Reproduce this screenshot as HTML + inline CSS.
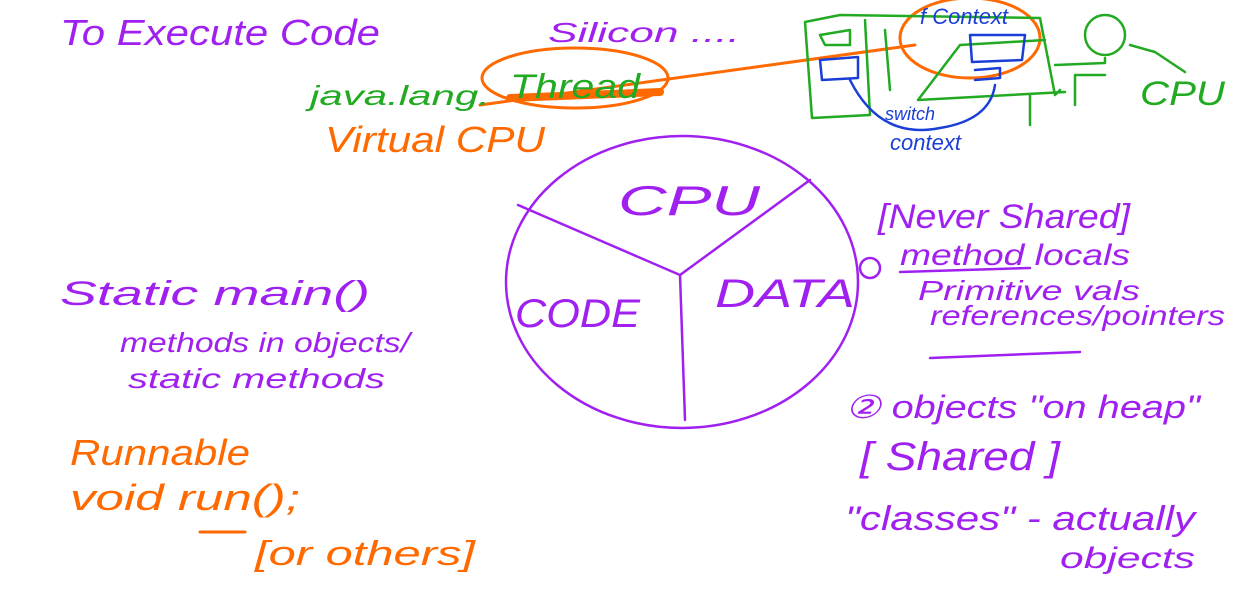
<!DOCTYPE html>
<html><head><meta charset="utf-8"><style>
html,body{margin:0;padding:0;background:#fff;width:1240px;height:590px;overflow:hidden}
svg text{font-family:"Liberation Sans",sans-serif;font-style:italic}
</style></head><body>
<svg width="1240" height="590" viewBox="0 0 1240 590" xmlns="http://www.w3.org/2000/svg" fill="none" stroke-linecap="round" stroke-linejoin="round">
<g fill="#a020f0" font-size="34" lengthAdjust="spacingAndGlyphs">
<text x="60" y="45" font-size="36" textLength="320" lengthAdjust="spacingAndGlyphs">To Execute Code</text>
<text x="548" y="42" font-size="28" textLength="192" lengthAdjust="spacingAndGlyphs">Silicon ....</text>
<text x="618" y="215" font-size="42" textLength="142" lengthAdjust="spacingAndGlyphs">CPU</text>
<text x="515" y="327" font-size="40" textLength="125" lengthAdjust="spacingAndGlyphs">CODE</text>
<text x="715" y="307" font-size="40" textLength="140" lengthAdjust="spacingAndGlyphs">DATA</text>
<text x="60" y="305" font-size="34" textLength="310" lengthAdjust="spacingAndGlyphs">Static  main()</text>
<text x="120" y="352" font-size="28" textLength="290" lengthAdjust="spacingAndGlyphs">methods in objects/</text>
<text x="128" y="388" font-size="28" textLength="257" lengthAdjust="spacingAndGlyphs">static methods</text>
<text x="878" y="228" font-size="34" textLength="252" lengthAdjust="spacingAndGlyphs">[Never Shared]</text>
<text x="900" y="265" font-size="30" textLength="230" lengthAdjust="spacingAndGlyphs">method locals</text>
<text x="918" y="300" font-size="28" textLength="222" lengthAdjust="spacingAndGlyphs">Primitive vals</text>
<text x="930" y="325" font-size="28" textLength="295" lengthAdjust="spacingAndGlyphs">references/pointers</text>
<text x="845" y="418" font-size="32" textLength="355" lengthAdjust="spacingAndGlyphs">② objects "on heap"</text>
<text x="860" y="470" font-size="40" textLength="200" lengthAdjust="spacingAndGlyphs">[ Shared ]</text>
<text x="845" y="530" font-size="34" textLength="350" lengthAdjust="spacingAndGlyphs">"classes" - actually</text>
<text x="1060" y="568" font-size="30" textLength="135" lengthAdjust="spacingAndGlyphs">objects</text>
</g>
<g stroke="#a020f0" stroke-width="2.5">
<ellipse cx="682" cy="282" rx="176" ry="146"/>
<path d="M518 205 L680 275 L810 180 M680 275 L685 420"/>
<path d="M900 272 L1030 268 M930 358 L1080 352"/>
<circle cx="870" cy="268" r="10"/>
</g>
<g fill="#ff6a00">
<text x="325" y="152" font-size="36" textLength="220" lengthAdjust="spacingAndGlyphs">Virtual CPU</text>
<text x="70" y="465" font-size="36" textLength="180" lengthAdjust="spacingAndGlyphs">Runnable</text>
<text x="70" y="510" font-size="36" textLength="230" lengthAdjust="spacingAndGlyphs">void run();</text>
<text x="255" y="565" font-size="34" textLength="220" lengthAdjust="spacingAndGlyphs">[or others]</text>
</g>
<g stroke="#ff6a00" stroke-width="3">
<ellipse cx="575" cy="78" rx="93" ry="30"/>
<ellipse cx="970" cy="38" rx="70" ry="40"/>
<path d="M480 105 L915 45"/>
<path d="M510 98 L660 92" stroke-width="8"/>
<path d="M200 532 L245 532"/>
</g>
<g fill="#22aa22">
<text x="310" y="105" font-size="28" textLength="180" lengthAdjust="spacingAndGlyphs">java.lang.</text>
<text x="510" y="98" font-size="34" textLength="130" lengthAdjust="spacingAndGlyphs">Thread</text>
<text x="1140" y="105" font-size="34" textLength="85" lengthAdjust="spacingAndGlyphs">CPU</text>
</g>
<g stroke="#22aa22" stroke-width="2.5">
<path d="M805 22 L840 15 L1040 18 L1055 95 L1060 90 M805 22 L812 118 L870 115 L865 20"/>
<path d="M885 30 L890 90 M918 100 L960 45 L1045 40 M918 100 L1065 92 M1030 95 L1030 125"/>
<path d="M820 35 L850 30 L850 45 L825 45 Z"/>
<path d="M1055 65 L1105 63 L1105 58 M1075 75 L1105 75 M1075 75 L1075 105"/>
<circle cx="1105" cy="35" r="20"/>
<path d="M1130 45 L1155 52 L1185 72"/>
</g>
<g stroke="#1a3fd6" stroke-width="2.5">
<path d="M820 60 L858 57 L858 78 L822 80 Z"/>
<path d="M970 35 L1025 35 L1022 60 L972 62 Z"/>
<path d="M975 70 L1000 68 L1000 78 L975 80"/>
<path d="M850 80 Q880 140 940 128 Q990 120 995 85"/>
</g>
<g fill="#1a3fd6">
<text x="920" y="24" font-size="22">f Context</text>
<text x="885" y="120" font-size="18">switch</text>
<text x="890" y="150" font-size="22">context</text>
</g>
</svg>
</body></html>
